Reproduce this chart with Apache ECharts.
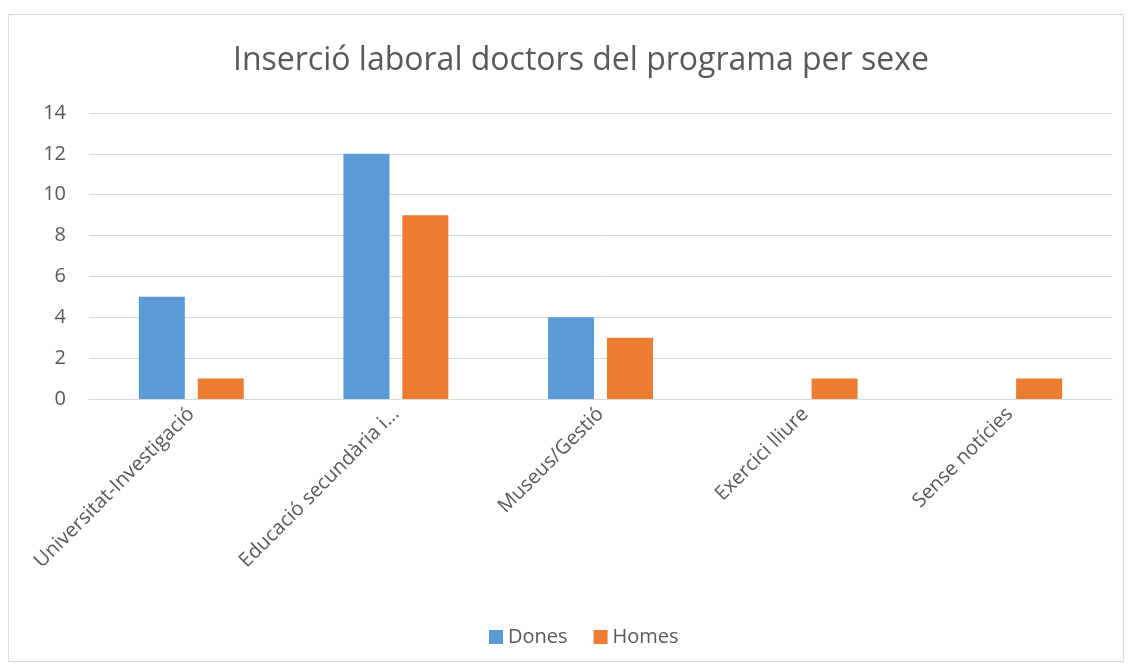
<!DOCTYPE html>
<html>
<head>
<meta charset="utf-8">
<script src="https://cdn.jsdelivr.net/npm/echarts@6/dist/echarts.min.js"></script>
<style>
  html, body { margin: 0; padding: 0; background: #fff; }
  #main { width: 1131px; height: 669px; }
</style>
</head>
<body>
<div id="main"></div>
<script>
var categories = ['Universitat-Investigació', 'Educació secundària i…', 'Museus/Gestió', 'Exercici lliure', 'Sense notícies'];
var dones = [5, 12, 4, 0, 0];
var homes = [1, 9, 3, 1, 1];

var myChart = echarts.init(document.getElementById('main'));
var txt = '#595959';
var font = '"Open Sans", "Noto Sans", sans-serif';

var option = {
    animation: false,
    graphic: [{
        type: 'rect',
        shape: { x: 8.5, y: 14.5, width: 1115, height: 647 },
        style: { fill: 'none', stroke: '#d9d9d9', lineWidth: 1 },
        silent: true
    }],
    title: {
        text: 'Inserció laboral doctors del programa per sexe',
        left: 228,
        top: 40,
        textStyle: { color: txt, fontSize: 32, fontWeight: 'normal', fontFamily: font }
    },
    legend: {
        bottom: 17,
        left: 484,
        itemWidth: 14,
        itemHeight: 14,
        itemGap: 26,
        icon: 'rect',
        textStyle: { color: txt, fontSize: 20, fontFamily: font },
        data: ['Dones', 'Homes']
    },
    grid: { left: 89, right: 19, top: 113, bottom: 270, containLabel: false },
    xAxis: {
        type: 'category',
        data: categories,
        axisTick: { show: false },
        axisLine: { lineStyle: { color: '#d9d9d9' } },
        axisLabel: { rotate: 45, color: txt, fontSize: 20, fontFamily: font, margin: 12, interval: 0 }
    },
    yAxis: {
        type: 'value',
        min: 0,
        max: 14,
        interval: 2,
        axisLine: { show: false },
        axisTick: { show: false },
        splitLine: { lineStyle: { color: '#d9d9d9' } },
        axisLabel: { color: txt, fontSize: 20, fontFamily: font, margin: 23 }
    },
    series: [
        {
            name: 'Dones',
            type: 'bar',
            data: dones,
            barWidth: '22.5%',
            barGap: '28%',
            itemStyle: { color: '#5b9bd5' }
        },
        {
            name: 'Homes',
            type: 'bar',
            data: homes,
            barWidth: '22.5%',
            itemStyle: { color: '#ed7d31' }
        }
    ]
};

myChart.setOption(option);
</script>
</body>
</html>
